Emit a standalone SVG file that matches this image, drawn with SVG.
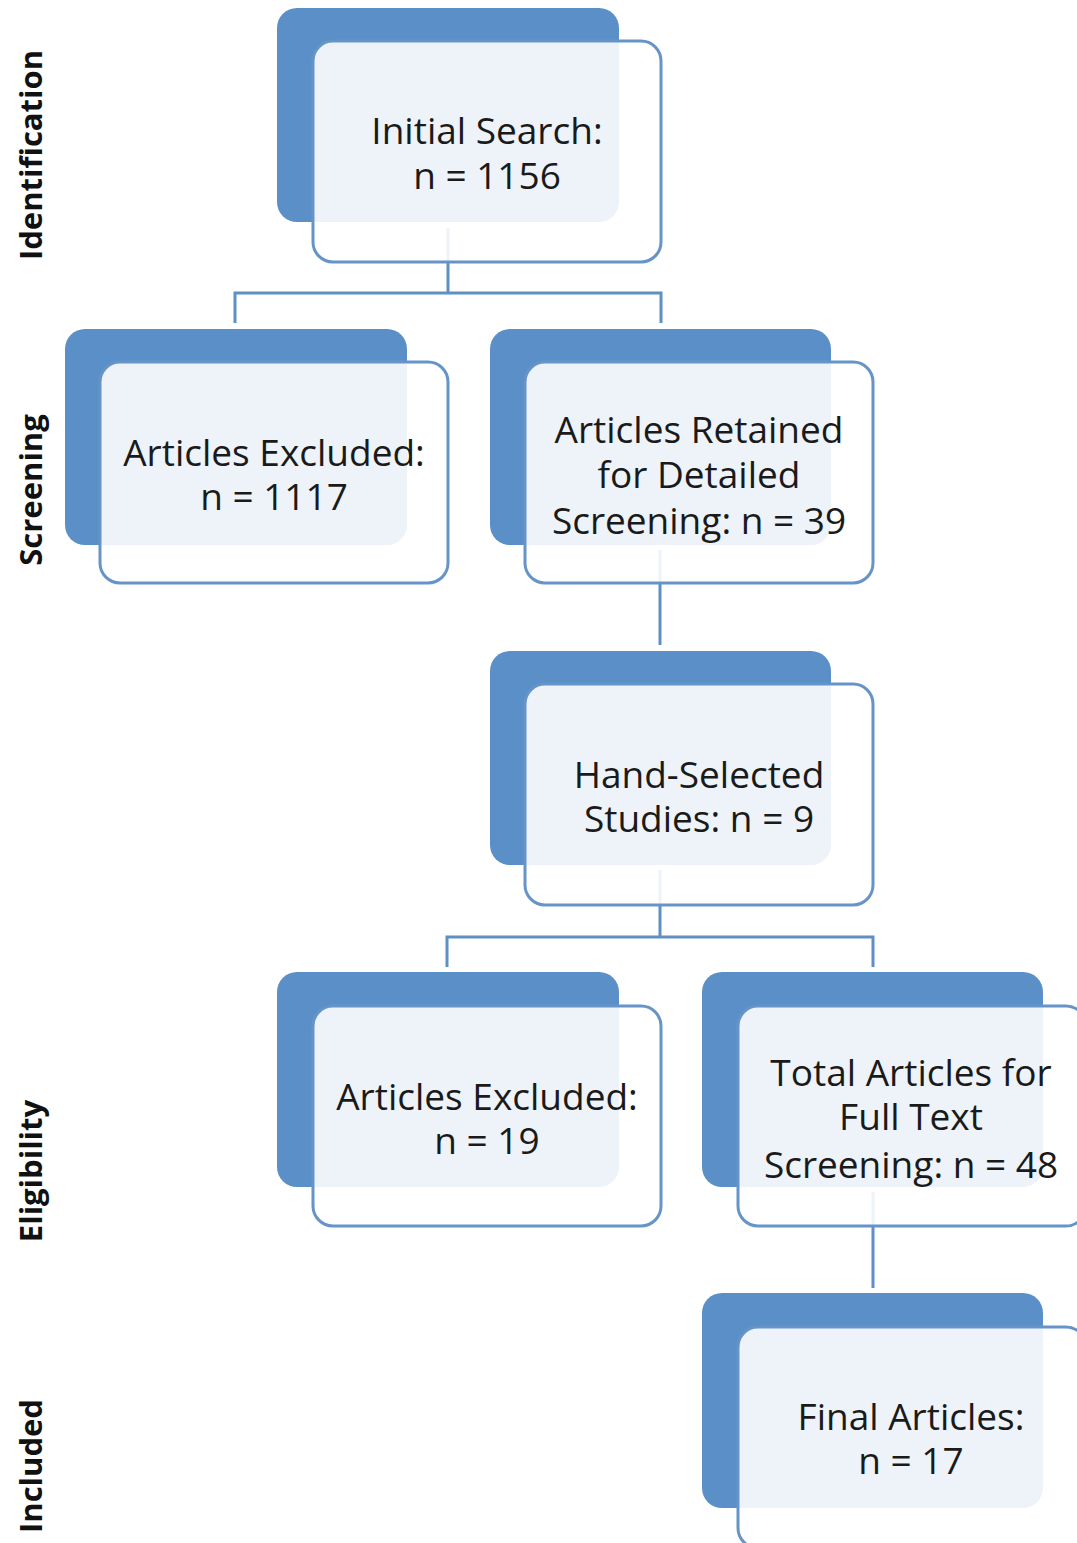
<svg xmlns="http://www.w3.org/2000/svg" width="1077" height="1543" viewBox="0 0 1077 1543">
<style>
.back{fill:#5b8fc7;}
.front{fill:#ffffff;fill-opacity:0.89;stroke:#6694c8;stroke-width:3;}
.conn{fill:none;stroke:#5f8fc4;stroke-width:3;}
.t{font-family:"Open Sans","Noto Sans",sans-serif;font-size:37px;fill:#1a1a1a;text-anchor:middle;}
.side{font-family:"Open Sans","Noto Sans",sans-serif;font-size:31px;font-weight:bold;fill:#111;text-anchor:middle;}
</style>
<rect width="1077" height="1543" fill="#ffffff"/>
<g id="stage-labels">
<text class="side" transform="translate(42,155) rotate(-90)">Identification</text>
<text class="side" transform="translate(42,490) rotate(-90)">Screening</text>
<text class="side" transform="translate(42,1171) rotate(-90)">Eligibility</text>
<text class="side" transform="translate(42,1466) rotate(-90)">Included</text>
</g>
<g id="connectors">
<path class="conn" d="M448,228 V293 M235,323 V293 H661 V323"/>
<path class="conn" d="M660,550 V645"/>
<path class="conn" d="M660,870 V937 M447,967 V937 H873 V967"/>
<path class="conn" d="M873,1192 V1288"/>
</g>
<g id="n1">
<rect class="back" x="277" y="8" width="342" height="214" rx="20"/>
<rect class="front" x="313" y="41" width="348" height="221" rx="20"/>
<text class="t" x="487" y="144">Initial Search:</text>
<text class="t" x="487" y="189">n = 1156</text>
</g>
<g id="n2">
<rect class="back" x="65" y="329" width="342" height="216" rx="20"/>
<rect class="front" x="100" y="362" width="348" height="221" rx="20"/>
<text class="t" x="274" y="466">Articles Excluded:</text>
<text class="t" x="274" y="510">n = 1117</text>
</g>
<g id="n3">
<rect class="back" x="490" y="329" width="341" height="216" rx="20"/>
<rect class="front" x="525" y="362" width="348" height="221" rx="20"/>
<text class="t" x="699" y="443">Articles Retained</text>
<text class="t" x="699" y="488">for Detailed</text>
<text class="t" x="699" y="534">Screening: n = 39</text>
</g>
<g id="n4">
<rect class="back" x="490" y="651" width="341" height="214" rx="20"/>
<rect class="front" x="525" y="684" width="348" height="221" rx="20"/>
<text class="t" x="699" y="788">Hand-Selected</text>
<text class="t" x="699" y="832">Studies: n = 9</text>
</g>
<g id="n5">
<rect class="back" x="277" y="972" width="342" height="215" rx="20"/>
<rect class="front" x="313" y="1006" width="348" height="220" rx="20"/>
<text class="t" x="487" y="1110">Articles Excluded:</text>
<text class="t" x="487" y="1154">n = 19</text>
</g>
<g id="n6">
<rect class="back" x="702" y="972" width="341" height="215" rx="20"/>
<rect class="front" x="738" y="1006" width="348" height="220" rx="20"/>
<text class="t" x="911" y="1086">Total Articles for</text>
<text class="t" x="911" y="1130">Full Text</text>
<text class="t" x="911" y="1178">Screening: n = 48</text>
</g>
<g id="n7">
<rect class="back" x="702" y="1293" width="341" height="215" rx="20"/>
<rect class="front" x="738" y="1327" width="348" height="221" rx="20"/>
<text class="t" x="911" y="1430">Final Articles:</text>
<text class="t" x="911" y="1474">n = 17</text>
</g>
</svg>
